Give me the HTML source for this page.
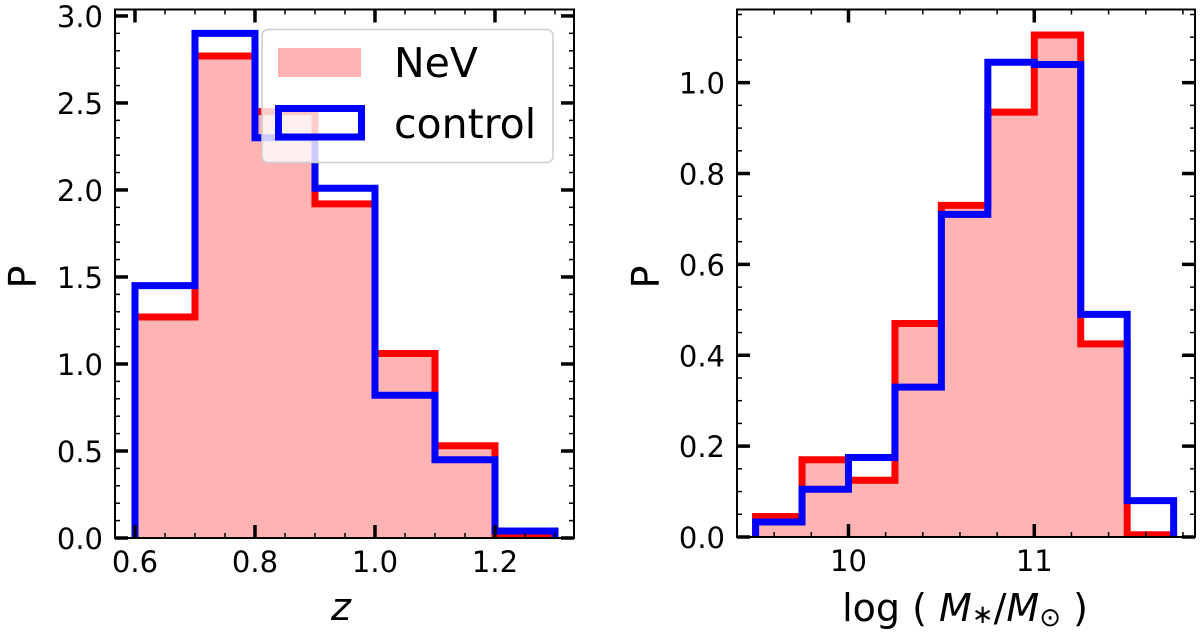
<!DOCTYPE html>
<html><head><meta charset="utf-8"><style>
html,body{margin:0;padding:0;background:#fff;}
svg{display:block;font-family:"DejaVu Sans","Liberation Sans",sans-serif;}
</style></head><body>
<svg id="fig" width="1200" height="637" viewBox="0 0 1200 637" xmlns="http://www.w3.org/2000/svg"></svg>
<script>
// Left panel data (redshift)
const zEdges = [0.6,0.7,0.8,0.9,1.0,1.1,1.2,1.3];
const zNeV = [1.27,2.77,2.45,1.92,1.06,0.53,0.01];
const zControl = [1.45,2.90,2.30,2.01,0.82,0.45,0.04];
const zXTicks = [0.6,0.8,1.0,1.2];
const zXTickLabels = ["0.6","0.8","1.0","1.2"];
const zYTicks = [0,0.5,1.0,1.5,2.0,2.5,3.0];
const zYTickLabels = ["0.0","0.5","1.0","1.5","2.0","2.5","3.0"];
// Right panel data (stellar mass)
const mEdges = [9.5,9.75,10.0,10.25,10.5,10.75,11.0,11.25,11.5,11.75];
const mNeV = [0.045,0.17,0.125,0.47,0.73,0.935,1.105,0.425,0.005];
const mControl = [0.033,0.105,0.175,0.33,0.71,1.045,1.04,0.49,0.08];
const mXTicks = [10,11];
const mXTickLabels = ["10","11"];
const mYTicks = [0,0.2,0.4,0.6,0.8,1.0];
const mYTickLabels = ["0.0","0.2","0.4","0.6","0.8","1.0"];

const NS="http://www.w3.org/2000/svg";
const svg=document.getElementById('fig');
function mk(tag,attrs,parent){const e=document.createElementNS(NS,tag);for(const k in attrs)e.setAttribute(k,attrs[k]);(parent||svg).appendChild(e);return e;}

function panel(cfg){
  const g=mk('g',{});
  
  
  const X=v=>cfg.left+(v-cfg.xmin)/(cfg.xmax-cfg.xmin)*(cfg.right-cfg.left);
  const Y=v=>cfg.bottom-(v-cfg.ymin)/(cfg.ymax-cfg.ymin)*(cfg.bottom-cfg.top);
  const cid='clip'+cfg.name;
  const cp=mk('clipPath',{id:cid},g);
  mk('rect',{x:cfg.left,y:cfg.top,width:cfg.right-cfg.left,height:cfg.bottom-cfg.top},cp);
  const pg=mk('g',{'clip-path':'url(#'+cid+')'},g);
  function stepPath(edges,vals){
    let d='M'+X(edges[0])+','+Y(0);
    for(let i=0;i<vals.length;i++){d+=' L'+X(edges[i])+','+Y(vals[i])+' L'+X(edges[i+1])+','+Y(vals[i]);}
    d+=' L'+X(edges[edges.length-1])+','+Y(0);
    return d;
  }
  const f=mk('path',{d:stepPath(cfg.edges,cfg.nev)+' Z',fill:'#ffb3b3',stroke:'none'},pg);
  
  
  const r=mk('path',{d:stepPath(cfg.edges,cfg.nev),fill:'none',stroke:'#ff0000','stroke-width':7,'stroke-linejoin':'miter'},pg);
  
  
  const b=mk('path',{d:stepPath(cfg.edges,cfg.ctrl),fill:'none',stroke:'#0000ff','stroke-width':7,'stroke-linejoin':'miter'},pg);
  
  
  const tg=mk('g',{stroke:'#000'},g);
  function xt(v,len,w){mk('line',{x1:X(v),x2:X(v),y1:cfg.bottom,y2:cfg.bottom-len,'stroke-width':w},tg);mk('line',{x1:X(v),x2:X(v),y1:cfg.top,y2:cfg.top+len,'stroke-width':w},tg);}
  function yt(v,len,w){mk('line',{y1:Y(v),y2:Y(v),x1:cfg.left,x2:cfg.left+len,'stroke-width':w},tg);mk('line',{y1:Y(v),y2:Y(v),x1:cfg.right,x2:cfg.right-len,'stroke-width':w},tg);}
  for(let v=cfg.xminorStart;v<=cfg.xmax+1e-9;v+=cfg.xminor){if(v>=cfg.xmin)xt(v,5,1.5);}
  for(let v=0;v<=cfg.ymax+1e-9;v+=cfg.yminor){yt(v,5,1.5);}
  cfg.xticks.forEach((v,i)=>{xt(v,13,3.5);
    const t=mk('text',{x:X(v),y:cfg.bottom+34,'font-size':29,'text-anchor':'middle',fill:'#000'},g);t.textContent=cfg.xlabels[i];
    
    });
  cfg.yticks.forEach((v,i)=>{yt(v,13,3.5);
    const t=mk('text',{x:cfg.left-12,y:Y(v)+11,'font-size':29,'text-anchor':'end',fill:'#000'},g);t.textContent=cfg.ylabels[i];
    
    });
  mk('rect',{x:cfg.left,y:cfg.top,width:cfg.right-cfg.left,height:cfg.bottom-cfg.top,fill:'none',stroke:'#000','stroke-width':2},g);
  return {g,X,Y};
}

const L=panel({name:'redshift-panel',left:115,right:574,top:9.5,bottom:538,xmin:0.5667,xmax:1.3317,ymin:0,ymax:3.037,
  edges:zEdges,nev:zNeV,ctrl:zControl,xticks:zXTicks,xlabels:zXTickLabels,yticks:zYTicks,ylabels:zYTickLabels,
  xminor:0.05,xminorStart:0.6,yminor:0.1});
const R=panel({name:'mass-panel',left:737,right:1195,top:9.5,bottom:537,xmin:9.4,xmax:11.865,ymin:0,ymax:1.161,
  edges:mEdges,nev:mNeV,ctrl:mControl,xticks:mXTicks,xlabels:mXTickLabels,yticks:mYTicks,ylabels:mYTickLabels,
  xminor:0.2,xminorStart:9.4,yminor:0.05});
</script>
<svg style="position:absolute;left:0;top:0" width="1200" height="637" xmlns="http://www.w3.org/2000/svg" font-family="DejaVu Sans, Liberation Sans, sans-serif">
  <g>
    <rect x="262" y="29.5" width="291" height="133" rx="6" fill="#ffffff" fill-opacity="0.8" stroke="#cccccc" stroke-width="1.5"/>
    <rect x="278" y="48" width="83" height="29" fill="#ffb3b3"/>
    <text x="394" y="77" font-size="41" fill="#000">NeV</text>
    <rect x="278.5" y="108.5" width="83" height="28.5" fill="none" stroke="#0000ff" stroke-width="7"/>
    <text x="394" y="138" font-size="41" fill="#000">control</text>
  </g>
  <text transform="translate(36,277) rotate(-90)" font-size="38" text-anchor="middle" fill="#000">P</text>
  <text transform="translate(659,277) rotate(-90)" font-size="38" text-anchor="middle" fill="#000">P</text>
  <text x="341" y="620" font-size="38" font-style="italic" text-anchor="middle" fill="#000">z</text>
  <text x="965" y="621" font-size="38" text-anchor="middle" fill="#000">log ( <tspan font-style="italic">M</tspan><tspan font-size="26" dy="2">∗</tspan><tspan dy="-2">/</tspan><tspan font-style="italic">M</tspan><tspan font-size="26" dy="5">⊙</tspan><tspan dy="-5"> )</tspan></text>
</svg>
</body></html>
